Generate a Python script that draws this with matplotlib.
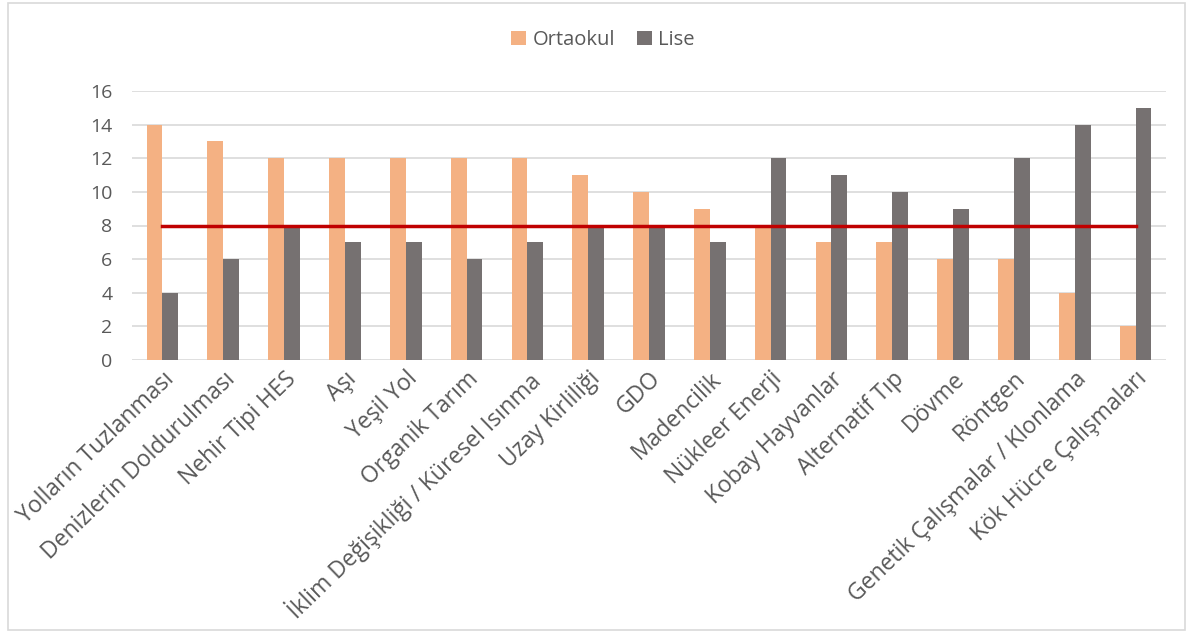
import matplotlib
matplotlib.use("Agg")
from matplotlib import pyplot as plt
from matplotlib.patches import Rectangle
import numpy as np

plt.rcParams['font.family'] = ['Open Sans', 'DejaVu Sans']

konular = ["Yolların Tuzlanması", "Denizlerin Doldurulması", "Nehir Tipi HES", "Aşı",
           "Yeşil Yol", "Organik Tarım", "İklim Değişikliği / Küresel Isınma",
           "Uzay Kirliliği", "GDO", "Madencilik", "Nükleer Enerji", "Kobay Hayvanlar",
           "Alternatif Tıp", "Dövme", "Röntgen", "Genetik Çalışmalar / Klonlama",
           "Kök Hücre Çalışmaları"]
ortaokul = [14, 13, 12, 12, 12, 12, 12, 11, 10, 9, 8, 7, 7, 6, 6, 4, 2]
lise = [4, 6, 8, 7, 7, 6, 7, 8, 8, 7, 12, 11, 10, 9, 12, 14, 15]
esik = [8] * len(konular)
y_ticks = [0, 2, 4, 6, 8, 10, 12, 14, 16]

W, H = 1192, 637
fig = plt.figure(figsize=(W / 100, H / 100), dpi=100)
ax = fig.add_axes([132 / W, 1 - 360 / H, (1166 - 132) / W, (360 - 91) / H])

x = np.arange(len(konular))
w = 0.26
ax.bar(x - w / 2, ortaokul, w, color="#F4B183", label="Ortaokul", zorder=3)
ax.bar(x + w / 2, lise, w, color="#767171", label="Lise", zorder=3)
ax.plot(x, esik, color="#C00000", lw=2.5, zorder=4)

ax.set_xlim(-0.5, len(konular) - 0.5)
ax.set_ylim(0, 16)
ax.set_yticks(y_ticks)
ax.yaxis.grid(True, color="#D9D9D9", lw=1.2, zorder=0)
for s in ax.spines.values():
    s.set_visible(False)
ax.tick_params(length=0, labelsize=14, colors="#595959")
ax.tick_params(axis="y", pad=14)
ax.set_xticks(x)
ax.set_xticklabels(konular, rotation=44, ha="right", rotation_mode="anchor", fontsize=16.5)
ax.tick_params(axis="x", pad=5)

fig.legend(loc="center", bbox_to_anchor=(603 / W, 1 - 40 / H), ncol=2, frameon=False,
           fontsize=14.5, handlelength=0.75, handleheight=0.75, handletextpad=0.3,
           columnspacing=1.1, labelcolor="#595959")

fig.add_artist(Rectangle((8 / W, 1 - 630 / H), (1185 - 8) / W, (630 - 3) / H,
                         transform=fig.transFigure, fill=False, ec="#D9D9D9", lw=1.2))

fig.savefig("out.png", dpi=100)
